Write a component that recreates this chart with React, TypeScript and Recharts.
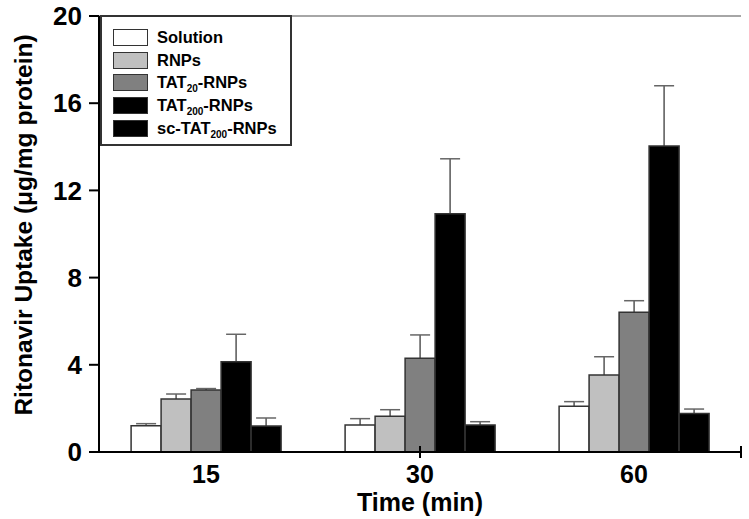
import React from 'react';
import { BarChart, Bar, XAxis, YAxis, ReferenceLine, Legend, Rectangle } from 'recharts';

const categories = ['15', '30', '60'];
const seriesNames = ['Solution', 'RNPs', 'TAT20-RNPs', 'TAT200-RNPs', 'sc-TAT200-RNPs'];
const solution = [1.2, 1.24, 2.1];
const solutionErr = [0.1, 0.29, 0.21];
const rnps = [2.43, 1.64, 3.53];
const rnpsErr = [0.23, 0.3, 0.84];
const tat20 = [2.84, 4.3, 6.41];
const tat20Err = [0.07, 1.07, 0.53];
const tat200 = [4.14, 10.93, 14.04];
const tat200Err = [1.26, 2.52, 2.76];
const scTat200 = [1.19, 1.24, 1.77];
const scTat200Err = [0.37, 0.15, 0.2];
const yTicks = [0, 4, 8, 12, 16, 20];
const boundaryTicks = [1, 2, 3];

const colors = ['#ffffff', '#c0c0c0', '#808080', '#000000', '#000000'];
const keys = ['s0', 's1', 's2', 's3', 's4'];
const values = [solution, rnps, tat20, tat200, scTat200];
const errs = [solutionErr, rnpsErr, tat20Err, tat200Err, scTat200Err];

const data = categories.map((c, i) => {
  const row: any = { time: c };
  keys.forEach((k, j) => {
    row[k] = values[j][i];
    row[k + 'e'] = errs[j][i];
  });
  return row;
});

const FONT = "Arial, 'Liberation Sans', Helvetica, sans-serif";

// Bar rectangle with an upward-only error whisker, scaled with the bar's own value-to-pixel ratio
const BarWithErr = (props: any) => {
  const { x, y, width, height, payload, dataKey } = props;
  const v = payload[dataKey];
  const e = payload[dataKey + 'e'];
  const pxPerUnit = v ? height / v : 0;
  const top = y - e * pxPerUnit;
  const cx = x + width / 2;
  return (
    <g>
      <line x1={cx} y1={y} x2={cx} y2={top} stroke="#555" strokeWidth={1.5} />
      <line x1={cx - 10} y1={top} x2={cx + 10} y2={top} stroke="#666" strokeWidth={1.5} />
      <Rectangle {...props} />
    </g>
  );
};

const LegendLabel = ({ name }: { name: string }) => {
  const m = name.match(/^(.*TAT)(\d+)(-RNPs)$/);
  if (!m) return <span>{name}</span>;
  return (
    <span>
      {m[1]}
      <span style={{ fontSize: 10, position: 'relative', top: 4 }}>{m[2]}</span>
      {m[3]}
    </span>
  );
};

const LegendBox = () => (
  <div
    style={{
      boxSizing: 'border-box',
      width: 192,
      height: 131,
      border: '2px solid #333',
      background: '#fff',
      padding: '9px 0 0 11px',
      fontFamily: FONT,
      fontWeight: 'bold',
      fontSize: 16.5,
      color: '#000',
    }}
  >
    {seriesNames.map((n, i) => (
      <div key={n} style={{ display: 'flex', alignItems: 'center', height: 22.7 }}>
        <div
          style={{
            boxSizing: 'border-box',
            width: 35,
            height: 17,
            background: colors[i],
            border: '1.5px solid #333',
            marginRight: 9,
          }}
        />
        <LegendLabel name={n} />
      </div>
    ))}
  </div>
);

const YLabel = (props: any) => {
  const vb = props.viewBox || { x: 0, y: 16, width: 99, height: 436 };
  const cx = vb.x + 23;
  const cy = vb.y + vb.height / 2 - 9;
  return (
    <text
      x={cx}
      y={cy}
      transform={`rotate(-90 ${cx} ${cy})`}
      textAnchor="middle"
      dominantBaseline="central"
      fontFamily={FONT}
      fontWeight="bold"
      fontSize={24.5}
      fill="#000"
    >
      Ritonavir Uptake (μg/mg protein)
    </text>
  );
};

export default function App() {
  return (
    <div style={{ position: 'absolute', left: 0, top: 0, width: 749, height: 519, background: '#fff' }}>
      <BarChart
        width={749}
        height={519}
        data={data}
        margin={{ top: 16, right: 8, left: 0, bottom: 0 }}
        barCategoryGap="15%"
        barGap={0}
      >
        <XAxis
          dataKey="time"
          height={67}
          axisLine={{ stroke: '#000', strokeWidth: 2 }}
          tickLine={false}
          tickSize={0}
          tickMargin={13}
          tick={{ fontFamily: FONT, fontWeight: 'bold', fontSize: 25, fill: '#000' }}
          label={{
            value: 'Time (min)',
            position: 'insideBottom',
            offset: 8,
            style: { fontFamily: FONT, fontWeight: 'bold', fontSize: 25, fill: '#000' },
          }}
        />
        <XAxis xAxisId="n" type="number" domain={[0, 3]} hide />
        <YAxis
          width={99}
          domain={[0, 20]}
          ticks={yTicks}
          interval={0}
          axisLine={{ stroke: '#000', strokeWidth: 2 }}
          tickLine={{ stroke: '#000', strokeWidth: 2 }}
          tickSize={10}
          tickMargin={7}
          tick={{ fontFamily: FONT, fontWeight: 'bold', fontSize: 26, fill: '#000' }}
          label={<YLabel />}
        />
        <ReferenceLine y={20} stroke="#888" strokeWidth={1.5} ifOverflow="visible" />
        <ReferenceLine xAxisId="n" x={3} stroke="#888" strokeWidth={1.5} ifOverflow="visible" />
        {boundaryTicks.map((t) => (
          <ReferenceLine
            key={t}
            xAxisId="n"
            segment={[{ x: t, y: -0.28 }, { x: t, y: 0.28 }]}
            stroke="#000"
            strokeWidth={2}
            ifOverflow="visible"
          />
        ))}
        {keys.map((k, j) => (
          <Bar
            key={k}
            dataKey={k}
            name={seriesNames[j]}
            fill={colors[j]}
            stroke="#333"
            strokeWidth={1.5}
            isAnimationActive={false}
            shape={(p: any) => <BarWithErr {...p} dataKey={k} />}
          />
        ))}
        <Legend
          layout="vertical"
          align="center"
          verticalAlign="middle"
          content={<LegendBox />}
          wrapperStyle={{ left: 100, top: 15, width: 192, height: 131 }}
        />
      </BarChart>
    </div>
  );
}
